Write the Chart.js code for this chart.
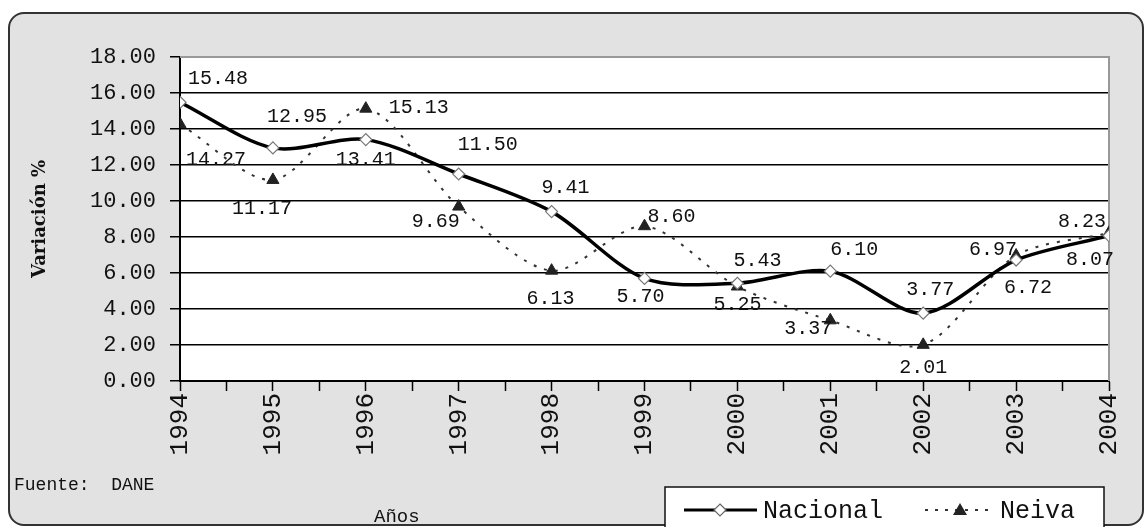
<!DOCTYPE html>
<html>
<head>
<meta charset="utf-8">
<script src="https://cdn.jsdelivr.net/npm/chart.js@4.4.1/dist/chart.umd.min.js"></script>
<style>
  html, body { margin: 0; padding: 0; background: #ffffff; }
  #wrap { width: 1145px; height: 527px; position: relative; }
</style>
</head>
<body>
<div id="wrap"><canvas id="c" width="1145" height="527"></canvas></div>
<script>
// ---- data ----
const years = [1994, 1995, 1996, 1997, 1998, 1999, 2000, 2001, 2002, 2003, 2004];
const nacional = [15.48, 12.95, 13.41, 11.50, 9.41, 5.70, 5.43, 6.10, 3.77, 6.72, 8.07];
const neiva = [14.27, 11.17, 15.13, 9.69, 6.13, 8.60, 5.25, 3.37, 2.01, 6.97, 8.23];
const seriesNames = ['Nacional', 'Neiva'];
const yTicks = [0, 2, 4, 6, 8, 10, 12, 14, 16, 18];

// ---- label placement (offsets of value labels from their points, px) ----
const labelOffsets = [
  [[38,-24],[24,-31],[0,20],[29,-29],[14,-24],[-4,18],[20,-23],[24,-21],[7,-23],[12,28],[-19,24]],
  [[36,36],[-11,29],[53,-1],[-23,15],[-1,28],[27,-9],[0,18],[-22,8],[0,23],[-23,-6],[-27,-11]]
];

const MONO = '"Liberation Mono", "DejaVu Sans Mono", monospace';

const framePlugin = {
  id: 'frame',
  beforeDraw(chart) {
    const ctx = chart.ctx;
    const ca = chart.chartArea;
    ctx.save();
    ctx.fillStyle = '#ffffff';
    ctx.fillRect(0, 0, chart.width, chart.height);
    // outer rounded frame
    ctx.beginPath();
    ctx.roundRect(9, 13, 1134, 512, 15);
    ctx.fillStyle = '#e2e2e2';
    ctx.fill();
    ctx.lineWidth = 2;
    ctx.strokeStyle = '#333333';
    ctx.stroke();
    // plot area
    ctx.fillStyle = '#ffffff';
    ctx.fillRect(ca.left, ca.top, ca.right - ca.left, ca.bottom - ca.top);
    ctx.restore();
  },
  beforeDatasetsDraw(chart) {
    const ctx = chart.ctx;
    const ca = chart.chartArea;
    ctx.save();
    ctx.strokeStyle = '#999999';
    ctx.lineWidth = 2;
    ctx.beginPath();
    ctx.moveTo(ca.left, ca.top);
    ctx.lineTo(ca.right, ca.top);
    ctx.lineTo(ca.right, ca.bottom);
    ctx.stroke();
    ctx.restore();
  },
  afterDatasetsDraw(chart) {
    const ctx = chart.ctx;
    ctx.save();
    ctx.font = '20px ' + MONO;
    ctx.fillStyle = '#111111';
    ctx.textAlign = 'center';
    ctx.textBaseline = 'middle';
    chart.data.datasets.forEach((ds, di) => {
      const meta = chart.getDatasetMeta(di);
      meta.data.forEach((pt, i) => {
        const off = labelOffsets[di][i];
        ctx.fillText(ds.data[i].y.toFixed(2), pt.x + off[0], pt.y + off[1]);
      });
    });
    ctx.restore();
  },
  afterDraw(chart) {
    const ctx = chart.ctx;
    ctx.save();
    // source + axis title
    ctx.fillStyle = '#111111';
    ctx.textBaseline = 'middle';
    ctx.textAlign = 'left';
    ctx.font = '18px ' + MONO;
    ctx.fillText('Fuente:  DANE', 14, 485);
    ctx.font = '19px ' + MONO;
    ctx.fillText('Años', 374, 517);
    // legend box
    ctx.fillStyle = '#ffffff';
    ctx.fillRect(665, 487, 439, 45);
    ctx.lineWidth = 1.5;
    ctx.strokeStyle = '#111111';
    ctx.strokeRect(665, 487, 439, 45);
    const ly = 510;
    // Nacional sample
    ctx.strokeStyle = '#000000';
    ctx.lineWidth = 3;
    ctx.beginPath(); ctx.moveTo(684, ly); ctx.lineTo(757, ly); ctx.stroke();
    ctx.beginPath();
    ctx.moveTo(720, ly - 6); ctx.lineTo(726, ly); ctx.lineTo(720, ly + 6); ctx.lineTo(714, ly); ctx.closePath();
    ctx.fillStyle = '#ffffff'; ctx.fill();
    ctx.lineWidth = 1.2; ctx.strokeStyle = '#666666'; ctx.stroke();
    // Neiva sample
    ctx.strokeStyle = '#333333';
    ctx.lineWidth = 2;
    ctx.setLineDash([3, 7]);
    ctx.beginPath(); ctx.moveTo(925, ly); ctx.lineTo(995, ly); ctx.stroke();
    ctx.setLineDash([]);
    ctx.beginPath();
    ctx.moveTo(960, ly - 7); ctx.lineTo(967, ly + 5); ctx.lineTo(953, ly + 5); ctx.closePath();
    ctx.fillStyle = '#222222'; ctx.fill();
    ctx.fillStyle = '#111111';
    ctx.font = '25px ' + MONO;
    ctx.textAlign = 'left';
    ctx.fillText(seriesNames[0], 763, ly + 1);
    ctx.fillText(seriesNames[1], 1000, ly + 1);
    ctx.restore();
  }
};

new Chart(document.getElementById('c'), {
  type: 'line',
  data: {
    datasets: [
      {
        label: seriesNames[0],
        data: years.map((y, i) => ({ x: y, y: nacional[i] })),
        borderColor: '#000000',
        borderWidth: 3.5,
        tension: 0.3,
        pointStyle: 'rectRot',
        pointRadius: 6,
        pointBackgroundColor: '#ffffff',
        pointBorderColor: '#777777',
        pointBorderWidth: 1.2,
        fill: false,
        order: 1
      },
      {
        label: seriesNames[1],
        data: years.map((y, i) => ({ x: y, y: neiva[i] })),
        borderColor: '#333333',
        borderWidth: 2,
        borderDash: [3, 8],
        tension: 0.3,
        pointStyle: 'triangle',
        pointRadius: 7,
        pointBackgroundColor: '#222222',
        pointBorderColor: '#222222',
        pointBorderWidth: 1,
        fill: false,
        order: 2
      }
    ]
  },
  options: {
    responsive: false,
    animation: false,
    devicePixelRatio: 1,
    layout: { padding: { top: 57, right: 36, left: 0, bottom: 0 } },
    plugins: {
      legend: { display: false },
      tooltip: { enabled: false },
      title: { display: false }
    },
    scales: {
      x: {
        type: 'linear',
        min: years[0],
        max: years[years.length - 1],
        afterBuildTicks(scale) {
          const t = [];
          for (let i = 0; i < years.length; i++) {
            t.push({ value: years[i] });
            if (i < years.length - 1) t.push({ value: years[i] + 0.5 });
          }
          scale.ticks = t;
        },
        ticks: {
          autoSkip: false,
          minRotation: 90,
          maxRotation: 90,
          padding: 2,
          color: '#111111',
          font: { family: MONO, size: 26 },
          callback(v) { return Number.isInteger(v) ? String(v) : ''; }
        },
        grid: {
          drawOnChartArea: false,
          drawTicks: true,
          tickLength: 10,
          tickColor: '#000000',
          tickWidth: 1.5
        },
        border: { color: '#000000', width: 2 },
        afterFit(scale) { scale.height = 146; }
      },
      y: {
        min: yTicks[0],
        max: yTicks[yTicks.length - 1],
        afterBuildTicks(scale) { scale.ticks = yTicks.map(v => ({ value: v })); },
        ticks: {
          padding: 14,
          color: '#111111',
          font: { family: MONO, size: 22 },
          callback(v) { return Number(v).toFixed(2); }
        },
        grid: {
          color(ctx) { return ctx.tick && ctx.tick.value === 18 ? '#999999' : '#000000'; },
          lineWidth: 1.5,
          tickLength: 10,
          tickColor: '#000000',
          tickWidth: 1.5
        },
        border: { color: '#000000', width: 2 },
        title: {
          display: true,
          text: 'Variación %',
          color: '#111111',
          font: { family: '"DejaVu Serif", serif', size: 18, weight: 'bold' },
          padding: { top: 30, bottom: 0 }
        },
        afterFit(scale) { scale.width = 180; }
      }
    }
  },
  plugins: [framePlugin]
});
</script>
</body>
</html>
